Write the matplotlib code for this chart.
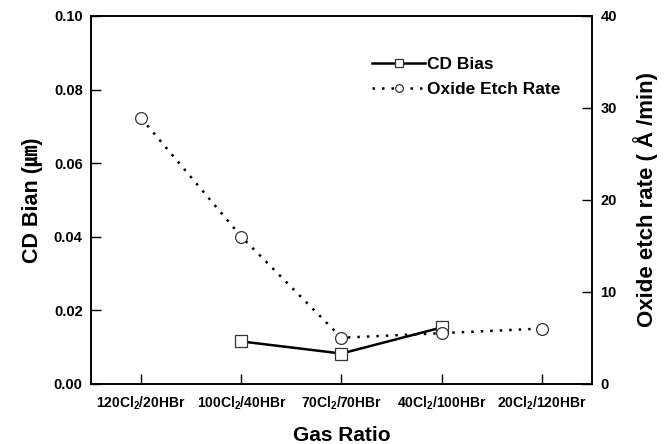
import matplotlib
matplotlib.use('Agg')
import matplotlib.pyplot as plt
import numpy as np

plt.rcParams['font.family'] = ['Liberation Sans', 'Noto Sans CJK SC', 'DejaVu Sans']
plt.rcParams['font.weight'] = 'bold'
plt.rcParams['mathtext.fontset'] = 'custom'
plt.rcParams['mathtext.rm'] = 'Liberation Sans:bold'
plt.rcParams['mathtext.it'] = 'Liberation Sans:bold'
plt.rcParams['mathtext.bf'] = 'Liberation Sans:bold'

gas_labels = [r'120Cl$_2$/20HBr', r'100Cl$_2$/40HBr', r'70Cl$_2$/70HBr',
              r'40Cl$_2$/100HBr', r'20Cl$_2$/120HBr']
cd_pos = [1, 2, 3]
cd_bias = [0.0115, 0.0082, 0.0153]
oxide_pos = [0, 1, 2, 3, 4]
oxide_rate = [28.9, 16.0, 5.0, 5.5, 6.0]

fig = plt.figure(figsize=(6.66, 4.44), dpi=100)
ax = fig.add_axes([0.1366, 0.1358, 0.7523, 0.8282])
ax2 = ax.twinx()

l1, = ax.plot(cd_pos, cd_bias, '-', color='black', linewidth=1.8,
              marker='s', markersize=8.5, markerfacecolor='white',
              markeredgecolor='#333333', markeredgewidth=0.9, label='CD Bias', zorder=3)
l2, = ax2.plot(oxide_pos, oxide_rate, linestyle=(0, (1, 2.8)), color='black', linewidth=1.8,
               marker='o', markersize=8.5, markerfacecolor='white',
               markeredgecolor='#333333', markeredgewidth=0.9, label='Oxide Etch Rate', zorder=3)

ax.set_xlim(-0.5, 4.5)
ax.set_ylim(0, 0.1)
ax2.set_ylim(0, 40)
ax.set_xticks(range(len(gas_labels)))
ax.set_xticklabels(gas_labels)
ax.set_yticks(np.arange(0, 0.101, 0.02))
ax.set_yticklabels(['0.00', '0.02', '0.04', '0.06', '0.08', '0.10'])
ax2.set_yticks([0, 10, 20, 30, 40])

ax.tick_params(axis='y', direction='in', length=7, width=1, labelsize=10.5, pad=6)
ax.tick_params(axis='x', direction='in', length=7, width=1, labelsize=10, pad=8)
ax2.tick_params(axis='y', direction='in', length=7, width=1, labelsize=10.5, pad=6)
for a in (ax, ax2):
    for s in a.spines.values():
        s.set_linewidth(1.2)

ax.set_xlabel('Gas Ratio', fontsize=15, fontweight='bold', labelpad=10)
ax.set_ylabel('CD Bian (㎛)', fontsize=15.5, fontweight='bold', labelpad=8)
ax2.set_ylabel('Oxide etch rate ( Å /min)', fontsize=16, fontweight='bold', labelpad=12)

leg = ax.legend(handles=[l1, l2], loc='upper left', bbox_to_anchor=(0.529, 0.931),
                frameon=False, fontsize=12.5, markerscale=0.65, handlelength=3.1,
                handletextpad=0.1, labelspacing=0.57)
for t in leg.get_texts():
    t.set_fontweight('bold')

fig.savefig('out.png', dpi=100, facecolor='white')
